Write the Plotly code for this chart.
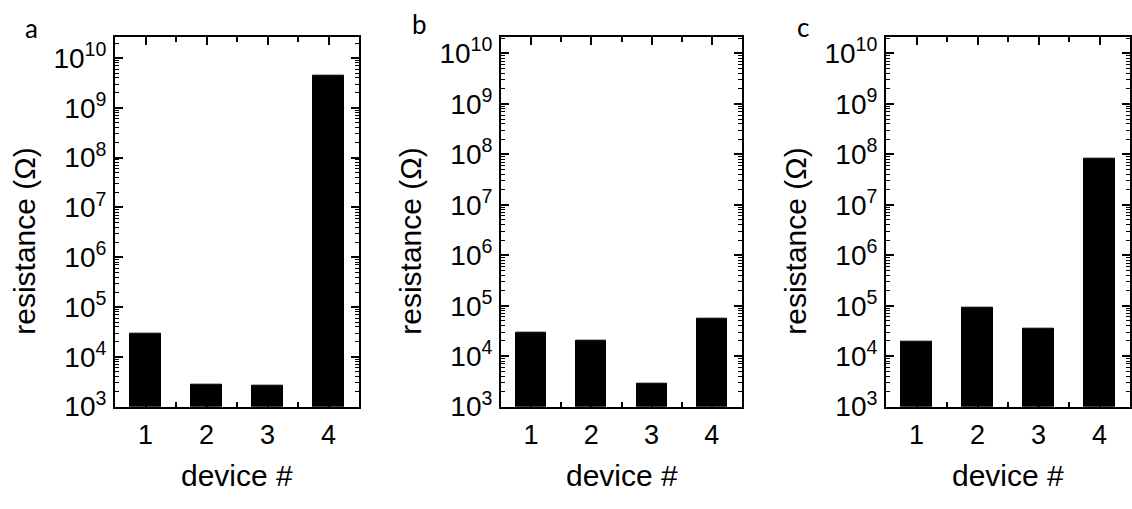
import plotly.graph_objects as go

# device resistance for the three measurement sets (ohm)
devices = [1, 2, 3, 4]
resistance_a = [2.9e4, 2.8e3, 2.65e3, 4.4e9]
resistance_b = [2.9e4, 2.0e4, 2.8e3, 5.6e4]
resistance_c = [1.9e4, 9.0e4, 3.45e4, 8.2e7]
panel_labels = ["a", "b", "c"]
y_ticks = [10 ** n for n in range(3, 11)]
y_tick_text = [f"10<sup>{n}</sup>" for n in range(3, 11)]

W, H = 1132, 509
FAMILY = "Liberation Sans, Arial, sans-serif"
X_TICK_FONT = dict(family=FAMILY, size=27, color="black")
Y_TICK_FONT = dict(family=FAMILY, size=28, color="black")
TITLE_FONT = dict(family=FAMILY, size=30, color="black")

# pixel extents of each panel's frame
x_px = [(115, 359), (501, 742), (886, 1130)]
y_px = (35, 419.3)
y_top = [10.43, 10.33, 10.33]

minor_y = [k * 10 ** n for n in range(3, 11) for k in range(2, 10)]

fig = go.Figure()
series = [resistance_a, resistance_b, resistance_c]
for i, vals in enumerate(series):
    sfx = "" if i == 0 else str(i + 1)
    fig.add_trace(go.Bar(
        x=devices, y=vals, width=0.5,
        marker=dict(color="black", line=dict(color="black", width=1)),
        xaxis="x" + sfx, yaxis="y" + sfx, showlegend=False,
    ))
    x0, x1 = x_px[i]
    dom_x = [x0 / W, x1 / W]
    dom_y = [1 - y_px[1] / H, 1 - y_px[0] / H]
    fig.layout["xaxis" + sfx] = dict(
        domain=dom_x, range=[0.5, 4.5], anchor="y" + sfx,
        tickvals=devices, ticktext=[str(d) for d in devices],
        ticks="inside", ticklen=8, tickwidth=1.5, tickcolor="black",
        showline=True, linewidth=2, linecolor="black", mirror="ticks",
        showgrid=False, zeroline=False, tickfont=X_TICK_FONT,
        ticklabelstandoff=3,
        minor=dict(tickvals=[1.5, 2.5, 3.5], ticks="inside", ticklen=5,
                   tickwidth=1.5, tickcolor="black", showgrid=False),
    )
    fig.layout["yaxis" + sfx] = dict(
        domain=dom_y, type="log", range=[3, y_top[i]], anchor="x" + sfx,
        tickvals=y_ticks, ticktext=y_tick_text,
        ticks="inside", ticklen=8, tickwidth=1.5, tickcolor="black",
        showline=True, linewidth=2, linecolor="black", mirror="ticks",
        showgrid=False, zeroline=False, tickfont=Y_TICK_FONT,
        ticklabelstandoff=1,
        minor=dict(tickvals=minor_y, ticks="inside", ticklen=4,
                   tickwidth=1, tickcolor="black", showgrid=False),
    )

    # axis titles
    fig.add_annotation(
        text="resistance (\u03a9)", textangle=-90, showarrow=False,
        xref="paper", yref="paper", x=(x0 - 90) / W, y=1 - 248 / H,
        xanchor="center", yanchor="middle", font=TITLE_FONT,
    )
    fig.add_annotation(
        text="device #", showarrow=False,
        xref="paper", yref="paper", x=(x0 + x1) / 2 / W, y=1 - 491 / H,
        xanchor="center", yanchor="middle", font=TITLE_FONT,
    )

# panel letters
letter_pos = [(31, 26), (419, 22), (803, 25)]
for lab, (px, py) in zip(panel_labels, letter_pos):
    fig.add_annotation(
        text=lab, showarrow=False, xref="paper", yref="paper",
        x=px / W, y=1 - py / H, xanchor="center", yanchor="middle",
        font=dict(family="Lato, Open Sans, sans-serif", size=26, color="black"),
    )

fig.update_layout(
    width=W, height=H, margin=dict(l=0, r=0, t=0, b=0),
    paper_bgcolor="white", plot_bgcolor="white", bargap=0,
)

fig.write_html("out.html")
